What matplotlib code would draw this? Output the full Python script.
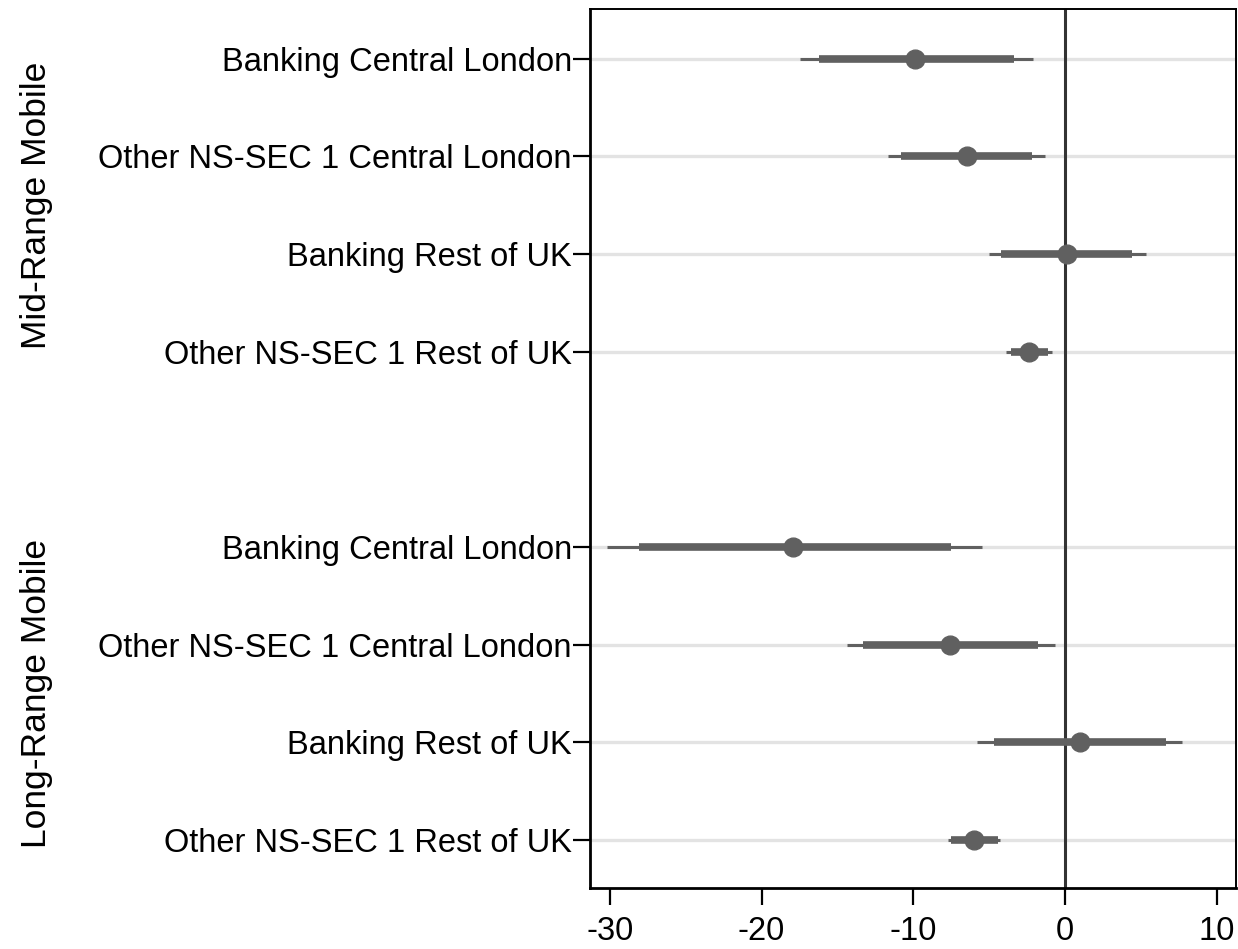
import matplotlib
matplotlib.use("Agg")
import matplotlib.pyplot as plt
import numpy as np

plt.rcParams['font.family'] = ['Liberation Sans', 'DejaVu Sans']

groups = ["Mid-Range Mobile", "Long-Range Mobile"]
labels = ["Banking Central London", "Other NS-SEC 1 Central London",
          "Banking Rest of UK", "Other NS-SEC 1 Rest of UK"]

# point estimates with inner (thick) and outer (thin) intervals, per group
est = [[-9.9, -6.5, 0.1, -2.4],
       [-17.9, -7.6, 1.0, -6.0]]
lo_in = [[-16.2, -10.8, -4.2, -3.6],
         [-28.1, -13.35, -4.7, -7.5]]
hi_in = [[-3.4, -2.2, 4.4, -1.15],
         [-7.5, -1.8, 6.66, -4.4]]
lo_out = [[-17.5, -11.7, -5.0, -3.9],
          [-30.2, -14.4, -5.8, -7.7]]
hi_out = [[-2.1, -1.3, 5.3, -0.9],
          [-5.45, -0.65, 7.7, -4.3]]

xticks = [-30, -20, -10, 0, 10]

col = "#606060"

fig = plt.figure(figsize=(12.38, 9.49), dpi=100)
ax = fig.add_axes([0.4766, 0.0643, 0.5218, 0.9262])

ypos = []
for g in range(len(groups)):
    y = np.arange(1, 5) + g * 5
    ypos.extend(y)
    for i in range(4):
        ax.axhline(y[i], color="#e3e3e3", lw=2.4, zorder=0)
        ax.plot([lo_out[g][i], hi_out[g][i]], [y[i], y[i]], color=col,
                lw=2.2, solid_capstyle="butt", zorder=2)
        ax.plot([lo_in[g][i], hi_in[g][i]], [y[i], y[i]], color=col,
                lw=5.5, solid_capstyle="butt", zorder=3)
    ax.plot(est[g], y, "o", color=col, ms=13.5, zorder=4)

ax.axvline(0, color="#333333", lw=2.2, zorder=1)

ax.set_xlim(-31.3, 11.25)
ax.set_ylim(9.49, 0.49)
ax.set_xticks(xticks)
ax.set_xticklabels([str(t) for t in xticks])
ax.set_yticks(ypos)
ax.set_yticklabels(labels * 2)
ax.tick_params(axis="both", labelsize=23.5, length=12, width=1.6,
               direction="out", color="black")
ax.tick_params(axis="y", pad=1)
ax.tick_params(axis="x", pad=8)

for s in ["left", "bottom"]:
    ax.spines[s].set_linewidth(2)
for s in ["top", "right"]:
    ax.spines[s].set_linewidth(1.4)

# group titles to the left of the row labels
for g, name in enumerate(groups):
    yc = 2.5 + g * 5
    ax.text(-0.857, yc, name, transform=ax.get_yaxis_transform(),
            rotation=90, ha="center", va="center", fontsize=25.5)

fig.savefig("out.png", dpi=100)
